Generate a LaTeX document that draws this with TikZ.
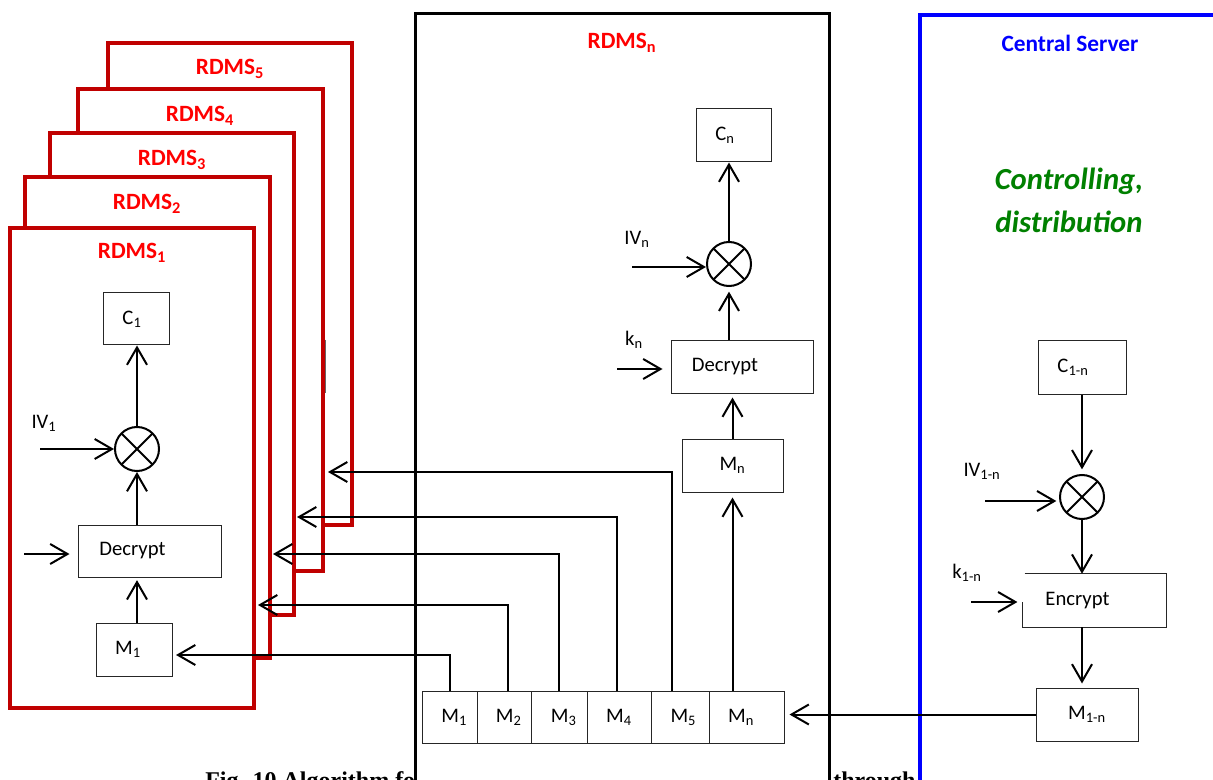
\documentclass[tikz,border=0pt]{standalone}
\usepackage{fontspec}
\setmainfont{Carlito}
\newfontfamily\capfont{Liberation Serif}
\usetikzlibrary{arrows.meta}
\definecolor{boxred}{RGB}{192,0,0}
\definecolor{txtred}{RGB}{255,0,0}
\definecolor{srvblue}{RGB}{0,0,255}
\definecolor{ctrlgreen}{RGB}{0,128,0}
\begin{document}
\begin{tikzpicture}[x=0.75pt,y=-0.75pt,
  conn/.style={line width=1.5pt,-{Straight Barb[length=13pt,width=15pt]}},
  link/.style={line width=1.5pt},
  bx/.style={draw=black!85,line width=0.75pt,inner sep=0pt,font=\fontsize{15.5}{18}\selectfont},
  txt/.style={inner sep=0pt,font=\fontsize{15.5}{18}\selectfont},
  rdmsbox/.style={draw=boxred,line width=2.5pt,fill=white},
  rlabel/.style={inner sep=0pt,text=txtred,font=\fontsize{17.5}{20}\selectfont\bfseries},
  xor/.style={circle,draw,line width=1.5pt,minimum size=33pt,inner sep=0pt,
    path picture={\draw[line width=1.5pt] (path picture bounding box.north west) -- (path picture bounding box.south east)
      (path picture bounding box.north east) -- (path picture bounding box.south west);}},
  captxt/.style={inner sep=0pt,anchor=base west,font=\fontsize{18}{20}\selectfont\capfont\bfseries}
]
\useasboundingbox (0,0) rectangle (1213,780);
\clip (0,0) rectangle (1213,780);

% caption (partly hidden behind the boxes)
\node[captxt] (cap1) at (205,788) {Fig. 10 Algorithm for};
\node[captxt] (cap2) at (833,788) {through I};

% stacked RDMS boxes
\draw[rdmsbox] (108,43) rectangle (352,525);
\node[rlabel] (l5) at (230,69) {RDMS\textsubscript{5}};
\draw[rdmsbox] (78,89) rectangle (323,571);
\draw[black!60,line width=0.75pt] (325,340) -- (325,393);
\node[rlabel] (l4) at (200,116) {RDMS\textsubscript{4}};
\draw[rdmsbox] (50,133) rectangle (294,615);
\node[rlabel] (l3) at (172,160) {RDMS\textsubscript{3}};
\draw[rdmsbox] (25,177) rectangle (270,658);
\node[rlabel] (l2) at (147,204) {RDMS\textsubscript{2}};
\draw[rdmsbox] (10,228) rectangle (254,708);
\node[rlabel] (l1) at (132,253) {RDMS\textsubscript{1}};

% RDMSn and Central Server frames
\draw[line width=2.25pt,fill=white] (415,820) -- (415,14) -- (829,14) -- (829,820);
\node[rlabel] (ln) at (622,43) {RDMS\textsubscript{n}};
\draw[srvblue,line width=3.3pt,fill=white] (920,820) -- (920,15) -- (1260,15) -- (1260,820);
\node[inner sep=0pt,text=srvblue,font=\fontsize{17.5}{20}\selectfont\bfseries] (cs) at (1070,43) {Central Server};
\node[inner sep=0pt,anchor=base,text=ctrlgreen,font=\fontsize{23}{27}\selectfont\bfseries\itshape] (ctl1) at (1069,190) {Controlling,};
\node[inner sep=0pt,anchor=base,text=ctrlgreen,font=\fontsize{23}{27}\selectfont\bfseries\itshape] (ctl2) at (1069,233) {distribution};

% ---- RDMS1 internals
\node[bx,minimum width=49.5pt,minimum height=39pt,label={[txt,xshift=-3pt]center:C\textsubscript{1}}] (c1) at (136,319) {};
\node[xor] (x1) at (137,449) {};
\node[bx,minimum width=107.25pt,minimum height=39pt,label={[txt,xshift=-12.75pt]center:Decrypt}] (d1) at (149.5,551) {};
\node[bx,minimum width=57pt,minimum height=39.75pt,label={[txt,xshift=-4.5pt]center:M\textsubscript{1}}] (m1) at (134,649.5) {};
\node[txt] (iv1) at (44,423) {IV\textsubscript{1}};
\coordinate (iv1s) at (40,449);
\coordinate (k1s) at (24,554);
\draw[conn] (x1.north) -- (x1 |- c1.south);
\draw[conn] (x1 |- d1.north) -- (x1.south);
\draw[conn] (x1 |- m1.north) -- ([yshift=-2pt]x1 |- d1.south);
\draw[conn] (iv1s) -- (x1.west);
\draw[conn,shorten >=6pt] (k1s) -- (k1s -| d1.west);

% ---- RDMSn internals
\node[bx,minimum width=56.25pt,minimum height=39.75pt,label={[txt,xshift=-6.4pt]center:C\textsubscript{n}}] (cn) at (733.5,135.5) {};
\node[xor] (xn) at (729,264) {};
\node[bx,minimum width=106.5pt,minimum height=39pt,label={[txt,xshift=-12.75pt]center:Decrypt}] (decn) at (742,367) {};
\node[bx,minimum width=75.75pt,minimum height=39.75pt,label={[txt]center:M\textsubscript{n}}] (mnb) at (732.5,465.5) {};
\node[txt] (ivn) at (637,239) {IV\textsubscript{n}};
\node[txt] (kn) at (634,340) {k\textsubscript{n}};
\coordinate (ivns) at (632,267);
\coordinate (kns) at (617,369);
\draw[conn] (xn.north) -- (xn |- cn.south);
\draw[conn,shorten >=3.5pt] (xn |- decn.north) -- (xn.south);
\draw[conn,shorten >=3pt] (mnb.north) -- (mnb.north |- decn.south);
\draw[conn] (ivns) -- (ivns -| xn.west);
\draw[conn,shorten >=6pt] (kns) -- (kns -| decn.west);

% ---- message row
\node[bx,minimum width=41.25pt,minimum height=39pt,label={[txt,xshift=3.5pt]center:M\textsubscript{1}}] (r1) at (449.5,717) {};
\node[bx,minimum width=40.5pt,minimum height=39pt,label={[txt,xshift=3.5pt]center:M\textsubscript{2}}] (r2) at (504,717) {};
\node[bx,minimum width=42pt,minimum height=39pt,label={[txt,xshift=3.5pt]center:M\textsubscript{3}}] (r3) at (559,717) {};
\node[bx,minimum width=48pt,minimum height=39pt,label={[txt]center:M\textsubscript{4}}] (r4) at (619,717) {};
\node[bx,minimum width=43.5pt,minimum height=39pt,label={[txt,xshift=2.5pt]center:M\textsubscript{5}}] (r5) at (680,717) {};
\node[bx,minimum width=56.25pt,minimum height=39pt,label={[txt,xshift=-4pt]center:M\textsubscript{n}}] (r6) at (746.5,717) {};

\coordinate (t1) at (176,655);
\coordinate (t2) at (258,605);
\coordinate (t3) at (273,554);
\coordinate (t4) at (297,517);
\coordinate (t5) at (328,472);
\draw[conn] (r1.north) |- (t1);
\draw[conn] ([xshift=3pt]r2.north) |- (t2);
\draw[conn] (r3.north) |- (t3);
\draw[conn] ([xshift=-1.5pt]r4.north) |- (t4);
\draw[conn] ([xshift=-6pt]r5.north) |- (t5);
\draw[conn,shorten >=3.75pt] (mnb |- r6.north) -- (mnb.south);

% ---- Central server internals
\node[bx,minimum width=66pt,minimum height=39.75pt,label={[txt,xshift=-6.75pt]center:C\textsubscript{1-n}}] (c1n) at (1082,367.5) {};
\node[xor] (xc) at (1082,497) {};
\node[minimum width=107.25pt,minimum height=39.75pt,inner sep=0pt,label={[txt,xshift=-12.75pt]center:Encrypt}] (enc) at (1094.5,600.5) {};
\draw[black!85,line width=0.75pt] ([xshift=1.5pt]enc.north west) -- (enc.north east) -- (enc.south east) -- (enc.south west) -- ([yshift=-1.1pt]enc.west);
\node[bx,minimum width=76.5pt,minimum height=39.75pt,label={[txt]center:M\textsubscript{1-n}}] (m1n) at (1087,714.5) {};
\node[txt] (ivc) at (982,471) {IV\textsubscript{1-n}};
\node[txt] (kc) at (967,573) {k\textsubscript{1-n}};
\coordinate (ivcs) at (985,501);
\coordinate (kcs) at (971,602);
\draw[conn,shorten >=3.5pt] (c1n.south) -- (xc.north);
\draw[conn] (xc.south) -- (xc |- enc.north);
\draw[conn,shorten >=3pt] (xc |- enc.south) -- (xc |- m1n.north);
\draw[conn,shorten >=2pt] (ivcs) -- (ivcs -| xc.west);
\draw[conn,shorten >=4pt] (kcs) -- (kcs -| enc.west);
\draw[conn,shorten >=3.75pt] (m1n.west) -- (m1n.west -| r6.east);
\end{tikzpicture}
\end{document}
